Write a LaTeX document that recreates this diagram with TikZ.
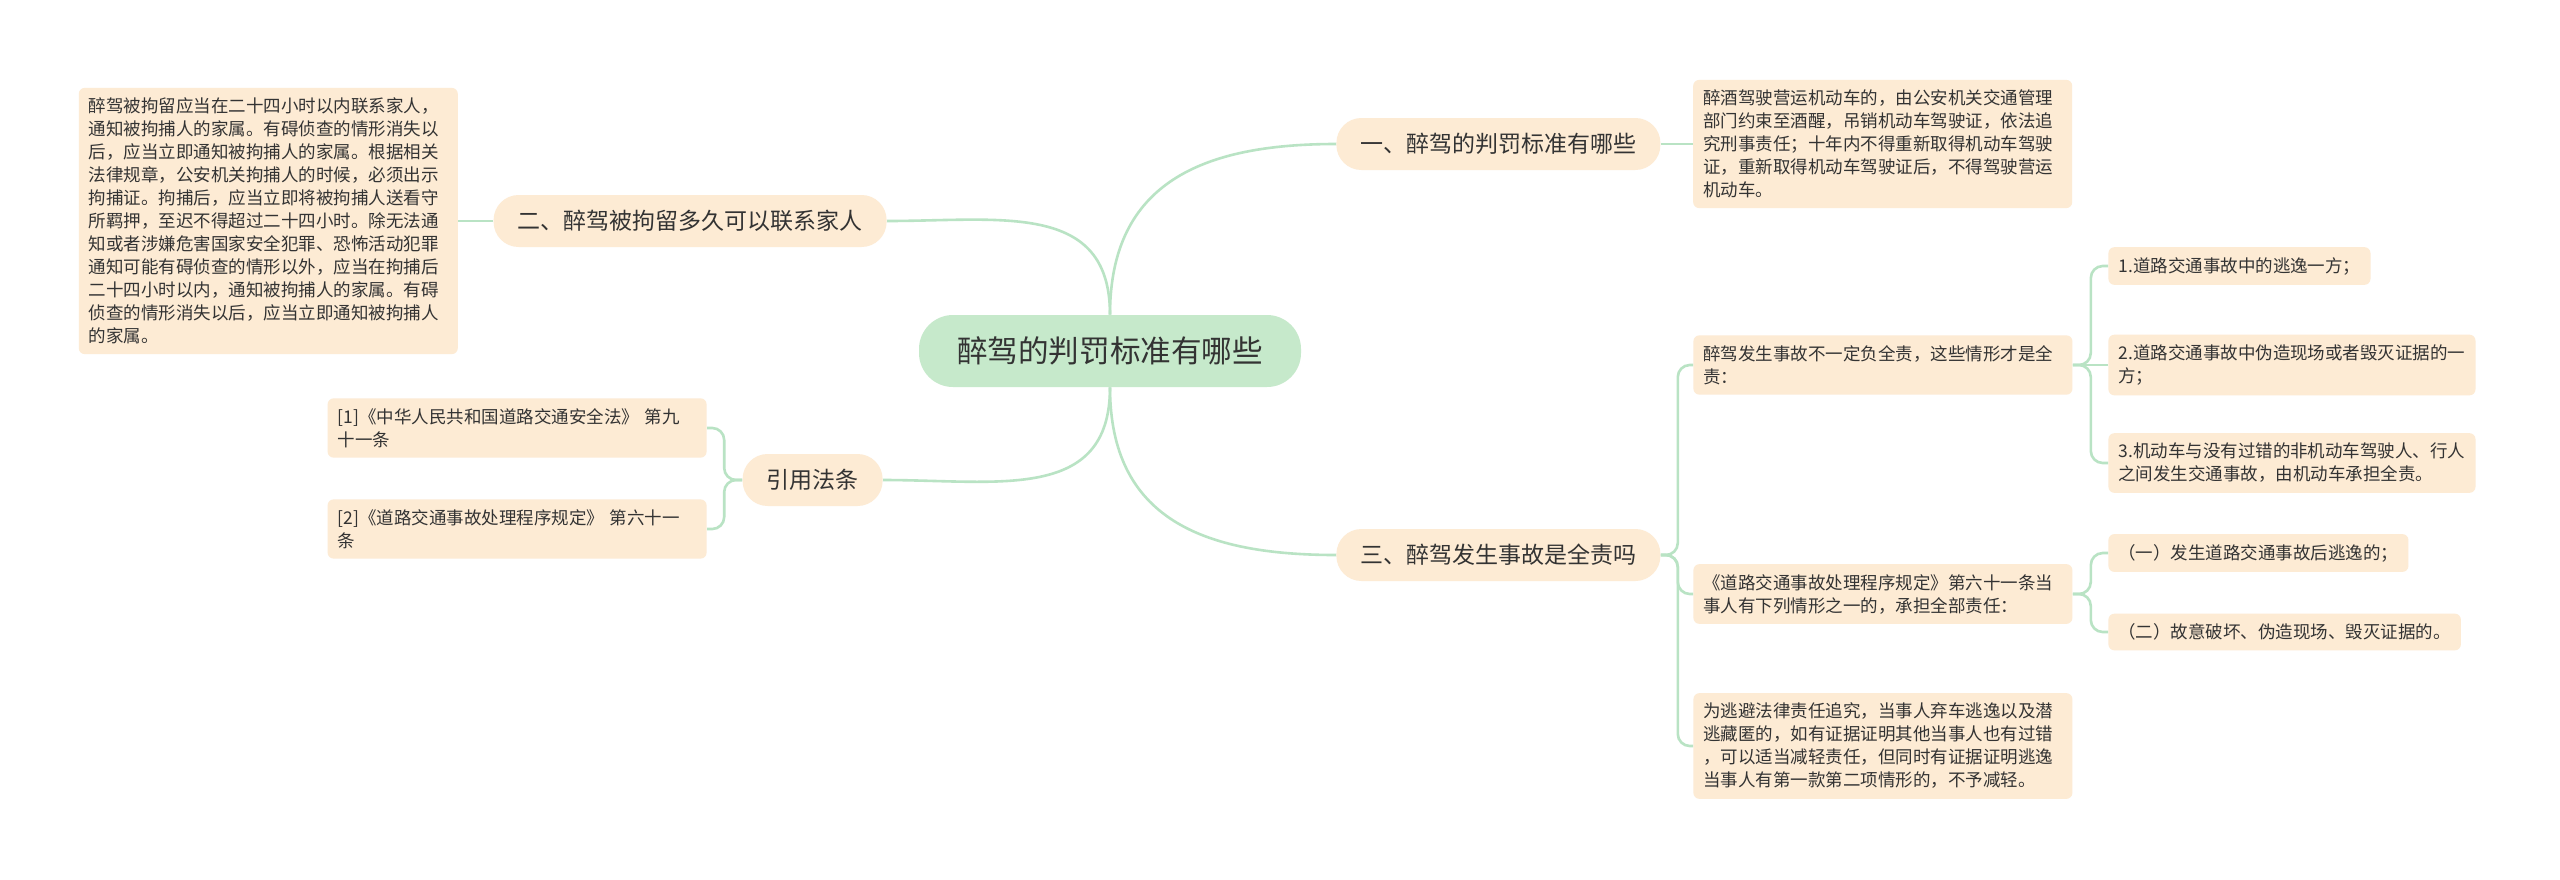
\documentclass[tikz,border=0pt]{standalone}
\usepackage{fontspec}
\setmainfont{Noto Sans CJK SC}
\usepackage{tikz}
\usetikzlibrary{positioning, calc}

\definecolor{rootgreen}{HTML}{C6E9CB}
\definecolor{peach}{HTML}{FDEBD4}
\definecolor{linegreen}{HTML}{B9E3C4}
\definecolor{inkgray}{HTML}{333333}

\begin{document}
\begin{tikzpicture}[
    x=0.5pt, y=-0.5pt,
    root/.style={rectangle, rounded corners=17pt, fill=rootgreen, minimum width=191pt, minimum height=36pt, text=inkgray, font=\fontsize{15.3}{18}\selectfont},
    topic/.style={rectangle, rounded corners=12.5pt, fill=peach, minimum height=26pt, inner xsep=12pt, text=inkgray, font=\fontsize{11.5}{14}\selectfont},
    leaf/.style={rectangle, rounded corners=3pt, fill=peach, inner xsep=5pt, inner ysep=5pt, align=left, text=inkgray, font=\fontsize{8.75}{11.5}\selectfont},
    wide/.style={leaf, text width=179.5pt},
    link/.style={draw=linegreen, line width=1.3pt},
    elbow/.style={link, rounded corners=6pt}
]
\fill[white] (0,0) rectangle (2560,879);
\useasboundingbox (0,0) rectangle (2560,879);

% Root
\node[root] (root) at (1110, 351) {醉驾的判罚标准有哪些};

% Topics
\node[topic, anchor=west] (t1) at (1336, 144) {一、醉驾的判罚标准有哪些};
\node[topic, anchor=east] (t2) at (887, 221) {二、醉驾被拘留多久可以联系家人};
\node[topic, anchor=west] (t3) at (1336, 555) {三、醉驾发生事故是全责吗};
\node[topic, anchor=east] (t4) at (883, 480) {引用法条};

% Topic one
\node[wide, right=16pt of t1] (l1) {醉酒驾驶营运机动车的，由公安机关交通管理\\部门约束至酒醒，吊销机动车驾驶证，依法追\\究刑事责任；十年内不得重新取得机动车驾驶\\证，重新取得机动车驾驶证后，不得驾驶营运\\机动车。};

% Topic two
\node[wide, left=17.5pt of t2] (l2) {醉驾被拘留应当在二十四小时以内联系家人，\\通知被拘捕人的家属。有碍侦查的情形消失以\\后，应当立即通知被拘捕人的家属。根据相关\\法律规章，公安机关拘捕人的时候，必须出示\\拘捕证。拘捕后，应当立即将被拘捕人送看守\\所羁押，至迟不得超过二十四小时。除无法通\\知或者涉嫌危害国家安全犯罪、恐怖活动犯罪\\通知可能有碍侦查的情形以外，应当在拘捕后\\二十四小时以内，通知被拘捕人的家属。有碍\\侦查的情形消失以后，应当立即通知被拘捕人\\的家属。};

% References
\node[wide, anchor=east] (ref1) at (707, 428) {[1]《中华人民共和国道路交通安全法》 第九\\十一条};
\node[wide, anchor=east] (ref2) at (707, 529) {[2]《道路交通事故处理程序规定》 第六十一\\条};

% Topic three
\node[wide, anchor=west] (acc) at (1693, 365) {醉驾发生事故不一定负全责，这些情形才是全\\责：};
\node[wide, anchor=west] (rule) at (1693, 594) {《道路交通事故处理程序规定》第六十一条当\\事人有下列情形之一的，承担全部责任：};
\node[wide, anchor=west] (flee) at (1693, 746) {为逃避法律责任追究，当事人弃车逃逸以及潜\\逃藏匿的，如有证据证明其他当事人也有过错\\，可以适当减轻责任，但同时有证据证明逃逸\\当事人有第一款第二项情形的，不予减轻。};

\node[leaf, anchor=west] (acc1) at (2108, 266) {1.道路交通事故中的逃逸一方；};
\node[leaf, anchor=west] (acc2) at (2108, 365) {2.道路交通事故中伪造现场或者毁灭证据的一\\方；};
\node[leaf, anchor=west] (acc3) at (2108, 463) {3.机动车与没有过错的非机动车驾驶人、行人\\之间发生交通事故，由机动车承担全责。};

\node[leaf, anchor=west] (rule1) at (2108, 553) {（一）发生道路交通事故后逃逸的；};
\node[leaf, anchor=west] (rule2) at (2108, 632) {（二）故意破坏、伪造现场、毁灭证据的。};

% Links - root
\draw[link] (root.north) to[out=90, in=180, looseness=1.2] (t1.west);
\draw[link] (root.north) to[out=90, in=0, looseness=1.2] (t2.east);
\draw[link] (root.south) to[out=-90, in=180, looseness=1.2] (t3.west);
\draw[link] (root.south) to[out=-90, in=0, looseness=1.2] (t4.east);

% Links - topics
\draw[link] (t1.east) -- (l1.west);
\draw[link] (t2.west) -- (l2.east);
\draw[elbow] (t4.west) -- ++(-18,0) |- (ref1.east);
\draw[elbow] (t4.west) -- ++(-18,0) |- (ref2.east);
\draw[elbow] (t3.east) -- ++(17,0) |- (acc.west);
\draw[elbow] (t3.east) -- ++(17,0) |- (rule.west);
\draw[elbow] (t3.east) -- ++(17,0) |- (flee.west);

% Links - details
\draw[elbow] (acc.east) -- ++(18,0) |- (acc1.west);
\draw[link] (acc.east) -- (acc2.west);
\draw[elbow] (acc.east) -- ++(18,0) |- (acc3.west);
\draw[elbow] (rule.east) -- ++(18,0) |- (rule1.west);
\draw[elbow] (rule.east) -- ++(18,0) |- (rule2.west);

\end{tikzpicture}
\end{document}
